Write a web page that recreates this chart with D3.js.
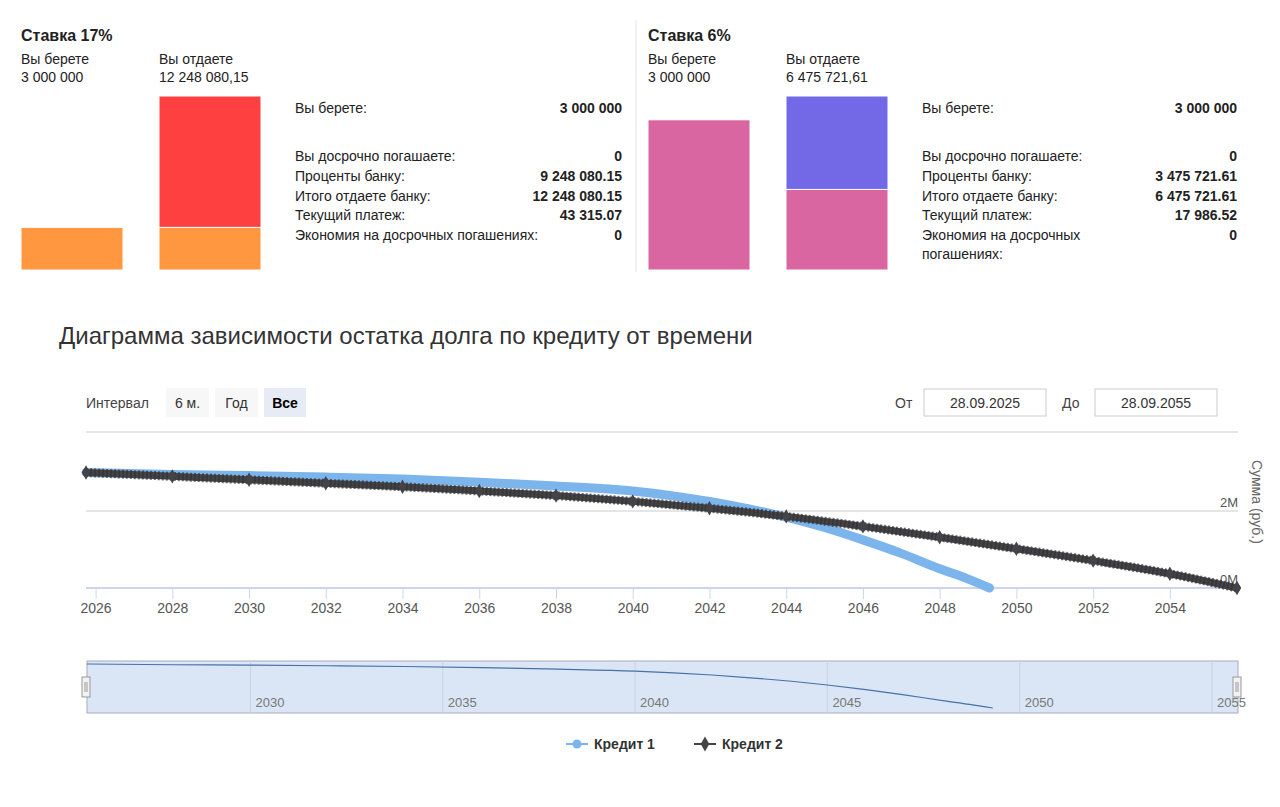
<!DOCTYPE html>
<html><head><meta charset="utf-8">
<script src="https://cdn.jsdelivr.net/npm/d3@7"></script>
<style>
body{margin:0;background:#fff;font-family:"Helvetica Neue",Arial,"Liberation Sans",sans-serif;}
</style></head>
<body>
<svg id="c" width="1280" height="807"></svg>
<script>
// DATA ------------------------------
const panels = [
  {title: "Ставка 17%", take: 3000000, takeLbl: "3 000 000", give: 12248080.15, giveLbl: "12 248 080,15",
   interest: 9248080.15, takeMax: 12248080.15, cTake: "#ff9640", cInt: "#ff4040",
   rows: [["Вы берете:", "3 000 000"], ["Вы досрочно погашаете:", "0"], ["Проценты банку:", "9 248 080.15"],
          ["Итого отдаете банку:", "12 248 080.15"], ["Текущий платеж:", "43 315.07"], ["Экономия на досрочных погашениях:", "0"]]},
  {title: "Ставка 6%", take: 3000000, takeLbl: "3 000 000", give: 6475721.61, giveLbl: "6 475 721,61",
   interest: 3475721.61, takeMax: 3475721.61, cTake: "#d966a0", cInt: "#7369e6",
   rows: [["Вы берете:", "3 000 000"], ["Вы досрочно погашаете:", "0"], ["Проценты банку:", "3 475 721.61"],
          ["Итого отдаете банку:", "6 475 721.61"], ["Текущий платеж:", "17 986.52"], ["Экономия на досрочных\nпогашениях:", "0"]]}
];

const credit1Years = [2025.75, 2028, 2030, 2032, 2034, 2036, 2038, 2040, 2041, 2042, 2043, 2044, 2045, 2046, 2047, 2048, 2048.7, 2049.3];
const credit1Debt  = [3.0, 2.95, 2.92, 2.88, 2.83, 2.75, 2.65, 2.52, 2.40, 2.25, 2.06, 1.84, 1.57, 1.25, 0.90, 0.50, 0.25, 0.0];
const credit2Years = [2025.75, 2028, 2030, 2032, 2034, 2036, 2038, 2040, 2042, 2044, 2046, 2048, 2050, 2052, 2054, 2055.75];
const credit2Debt  = [3.0, 2.9, 2.81, 2.72, 2.63, 2.52, 2.40, 2.25, 2.07, 1.86, 1.60, 1.32, 1.02, 0.71, 0.37, 0.0];
const yTicks = [0, 2];
const navTicks = [2030, 2035, 2040, 2045, 2050, 2055];

const svg = d3.select("#c");
const font = '"Helvetica Neue",Arial,"Liberation Sans",sans-serif';

// TOP PANELS ------------------------
panels.forEach((p, i) => {
  const ox = i === 0 ? 21 : 648, tx = i === 0 ? 295 : 922, rx = i === 0 ? 622 : 1237;
  const g = svg.append("g").attr("font-family", font).attr("fill", "#222");
  g.append("text").attr("x", ox).attr("y", 41).attr("font-size", 16).attr("font-weight", "bold").text(p.title);
  [["Вы берете", p.takeLbl, 0], ["Вы отдаете", p.giveLbl, 138]].forEach(d => {
    g.append("text").attr("x", ox + d[2]).attr("y", 64).attr("font-size", 14).text(d[0]);
    g.append("text").attr("x", ox + d[2]).attr("y", 82).attr("font-size", 14).text(d[1]);
  });
  const y = d3.scaleLinear().domain([0, p.give]).range([270, 96]);
  const yT = d3.scaleLinear().domain([0, p.takeMax]).range([270, 96]);
  g.append("rect").attr("x", ox).attr("width", 102).attr("y", yT(p.take)).attr("height", 270 - yT(p.take))
    .attr("fill", p.cTake).attr("stroke", "#fff");
  g.append("rect").attr("x", ox + 138).attr("width", 102).attr("y", y(p.take)).attr("height", 270 - y(p.take))
    .attr("fill", p.cTake).attr("stroke", "#fff");
  g.append("rect").attr("x", ox + 138).attr("width", 102).attr("y", y(p.give)).attr("height", y(p.take) - y(p.give))
    .attr("fill", p.cInt).attr("stroke", "#fff");
  const rowY = [113, 161, 181, 201, 220, 240];
  p.rows.forEach((r, k) => {
    r[0].split("\n").forEach((ln, j) =>
      g.append("text").attr("x", tx).attr("y", rowY[k] + j * 19).attr("font-size", 14).text(ln));
    g.append("text").attr("x", rx).attr("y", rowY[k]).attr("font-size", 14).attr("font-weight", "bold")
      .attr("text-anchor", "end").text(r[1]);
  });
});
svg.append("line").attr("x1", 636).attr("x2", 636).attr("y1", 20).attr("y2", 272).attr("stroke", "#e6e6e6");

// MAIN CHART ------------------------
svg.append("text").attr("x", 59).attr("y", 344).attr("font-family", font).attr("font-size", 24).attr("fill", "#333")
  .text("Диаграмма зависимости остатка долга по кредиту от времени");

const ctl = svg.append("g").attr("font-family", font).attr("font-size", 14).attr("fill", "#444");
ctl.append("text").attr("x", 86).attr("y", 408).text("Интервал");
[["6 м.", 166, 43, "#f7f7f7", "normal"], ["Год", 215, 43, "#f7f7f7", "normal"], ["Все", 264, 42, "#e6ebf5", "bold"]].forEach(b => {
  ctl.append("rect").attr("x", b[1]).attr("y", 388).attr("width", b[2]).attr("height", 29).attr("fill", b[3]);
  ctl.append("text").attr("x", b[1] + b[2] / 2).attr("y", 408).attr("text-anchor", "middle")
    .attr("font-weight", b[4]).attr("fill", b[4] === "bold" ? "#000" : "#333").text(b[0]);
});
[["От", 895, 924, "28.09.2025"], ["До", 1062, 1095, "28.09.2055"]].forEach(d => {
  ctl.append("text").attr("x", d[1]).attr("y", 408).text(d[0]);
  ctl.append("rect").attr("x", d[2]).attr("y", 389).attr("width", 122).attr("height", 27).attr("fill", "#fff").attr("stroke", "#ccc");
  ctl.append("text").attr("x", d[2] + 61).attr("y", 408).attr("text-anchor", "middle").attr("fill", "#333").text(d[3]);
});

const x = d3.scaleLinear().domain([2025.75, 2055.75]).range([86, 1237]);
const yM = d3.scaleLinear().domain([0, 2]).range([588, 511]);
svg.append("line").attr("x1", 86).attr("x2", 1238).attr("y1", 432).attr("y2", 432).attr("stroke", "#ccc");
yTicks.forEach(t => {
  svg.append("line").attr("x1", 86).attr("x2", 1238).attr("y1", yM(t)).attr("y2", yM(t))
    .attr("stroke", t === 0 ? "#ccd6eb" : "#ccc").attr("stroke-width", t === 0 ? 2 : 1);
  svg.append("text").attr("x", 1238).attr("y", yM(t) - 4).attr("text-anchor", "end").attr("font-family", font)
    .attr("font-size", 13).attr("fill", "#555").text(t + "M");
});
svg.append("text").attr("transform", "translate(1252,460) rotate(90)").attr("font-family", font)
  .attr("font-size", 14).attr("fill", "#666").text("Сумма (руб.)");
const xAxis = svg.append("g").attr("transform", "translate(0,589)")
  .call(d3.axisBottom(x).tickValues(d3.range(2026, 2055, 2)).tickFormat(d3.format("d")).tickSize(10).tickPadding(4));
xAxis.select(".domain").remove();
xAxis.selectAll("line").attr("stroke", "#ccd6eb");
xAxis.selectAll("text").attr("font-family", font).attr("font-size", 14).attr("fill", "#555");

const line = d3.line().x(d => x(d[0])).y(d => yM(d[1])).curve(d3.curveMonotoneX);
const s1 = credit1Years.map((t, i) => [t, credit1Debt[i]]);
const s2 = credit2Years.map((t, i) => [t, credit2Debt[i]]);
svg.append("path").attr("d", line(s1)).attr("fill", "none").attr("stroke", "#7cb5ec").attr("stroke-width", 9).attr("stroke-linecap", "round");
svg.append("path").attr("d", line(s2)).attr("fill", "none").attr("stroke", "#434348").attr("stroke-width", 7).attr("stroke-linecap", "round");
svg.append("path").attr("d", line(s2)).attr("fill", "none").attr("stroke", "#333").attr("stroke-width", 9)
  .attr("stroke-dasharray", "2 2").attr("opacity", 0.7);
svg.selectAll(".m2").data(s2).join("path").attr("class", "m2")
  .attr("transform", d => `translate(${x(d[0])},${yM(d[1])})`).attr("d", d3.symbol(d3.symbolDiamond, 60)).attr("fill", "#434348");

// NAVIGATOR -------------------------
const nx = d3.scaleLinear().domain([2025.75, 2055]).range([87, 1212]);
const ny = d3.scaleLinear().domain([0, 3]).range([708, 664]);
svg.append("rect").attr("x", 87).attr("y", 661).attr("width", 1151).attr("height", 52).attr("fill", "#dae6f6").attr("stroke", "#aab");
navTicks.forEach(t => {
  svg.append("line").attr("x1", nx(t)).attr("x2", nx(t)).attr("y1", 661).attr("y2", 713).attr("stroke", "#c8d2e0");
  svg.append("text").attr("x", nx(t) + 5).attr("y", 707).attr("font-family", font).attr("font-size", 13)
    .attr("fill", "#777").text(t);
});
svg.append("path").attr("d", d3.line().x(d => nx(d[0])).y(d => ny(d[1])).curve(d3.curveMonotoneX)(s1))
  .attr("fill", "none").attr("stroke", "#4572a7").attr("stroke-width", 1.2);
[86, 1237].forEach(hx => {
  svg.append("rect").attr("x", hx - 4).attr("y", 677).attr("width", 8).attr("height", 20).attr("fill", "#f2f2f2").attr("stroke", "#999");
  svg.append("line").attr("x1", hx - 1).attr("x2", hx - 1).attr("y1", 682).attr("y2", 692).attr("stroke", "#999");
  svg.append("line").attr("x1", hx + 1).attr("x2", hx + 1).attr("y1", 682).attr("y2", 692).attr("stroke", "#999");
});

// LEGEND ----------------------------
[["Кредит 1", "#7cb5ec", d3.symbolCircle, 566], ["Кредит 2", "#434348", d3.symbolDiamond, 694]].forEach(l => {
  svg.append("line").attr("x1", l[3]).attr("x2", l[3] + 22).attr("y1", 744).attr("y2", 744).attr("stroke", l[1]).attr("stroke-width", 2);
  svg.append("path").attr("transform", `translate(${l[3] + 11},744)`).attr("d", d3.symbol(l[2], 64)).attr("fill", l[1]);
  svg.append("text").attr("x", l[3] + 28).attr("y", 749).attr("font-family", font).attr("font-size", 14)
    .attr("font-weight", "bold").attr("fill", "#333").text(l[0]);
});
</script>
</body></html>
